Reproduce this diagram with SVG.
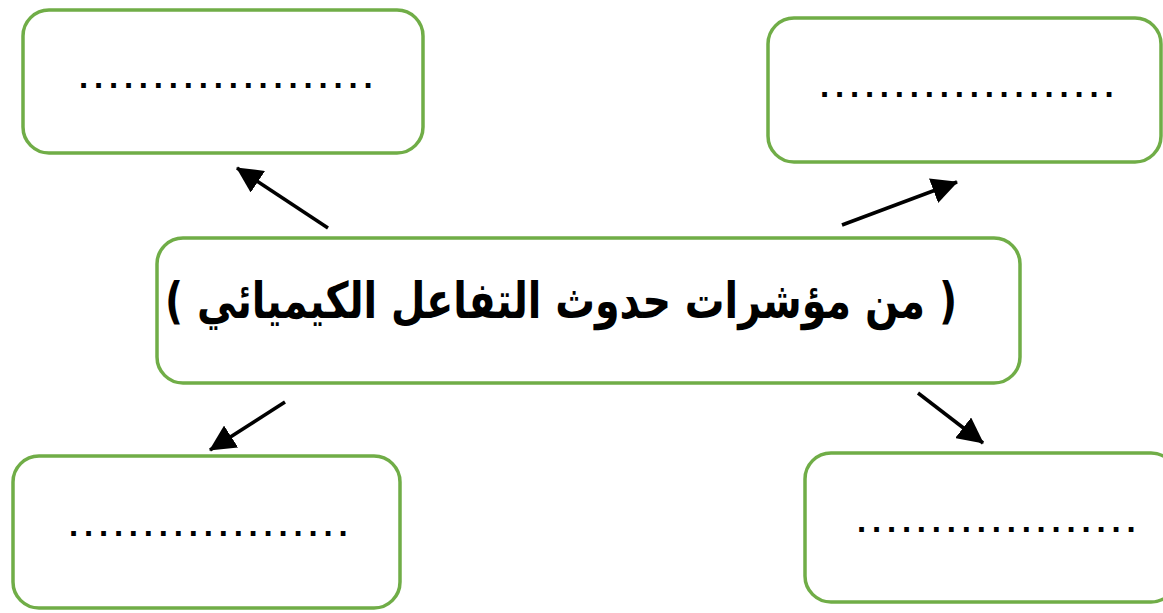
<svg xmlns="http://www.w3.org/2000/svg" width="1163" height="613" viewBox="0 0 1163 613">
<defs>
<style>
.box{fill:#fff;stroke:#70ad47;stroke-width:3.5}
.dots{font-family:"Liberation Sans",Arial,sans-serif;font-size:33px;font-weight:bold;fill:#000;letter-spacing:5.8px}
.title{font-family:"DejaVu Sans",sans-serif;font-size:50px;font-weight:bold;fill:#000}
.conn{stroke:#000;stroke-width:3.5;fill:none;marker-end:url(#ah)}
</style>
<marker id="ah" markerUnits="userSpaceOnUse" markerWidth="28" markerHeight="26" refX="25" refY="13" orient="auto">
<path d="M0,0 L26,13 L0,26 Z" fill="#000"/>
</marker>
</defs>
<rect width="1163" height="613" fill="#fff"/>
<g id="connectors">
<line class="conn" x1="328" y1="228" x2="237" y2="168"/>
<line class="conn" x1="842" y1="225" x2="957" y2="182"/>
<line class="conn" x1="285" y1="402" x2="210" y2="450"/>
<line class="conn" x1="918" y1="393" x2="983" y2="443"/>
</g>
<g id="node-center">
<rect class="box" x="157" y="238" width="863" height="145" rx="26"/>
<text class="title" x="561" y="318" text-anchor="middle" direction="rtl" textLength="792" lengthAdjust="spacingAndGlyphs">( من مؤشرات حدوث التفاعل الكيميائي )</text>
</g>
<g id="node-top-left">
<rect class="box" x="23" y="10" width="400" height="143" rx="26"/>
<text class="dots" x="79" y="88">....................</text>
</g>
<g id="node-top-right">
<rect class="box" x="768" y="18" width="393" height="144" rx="26"/>
<text class="dots" x="820" y="97">....................</text>
</g>
<g id="node-bottom-left">
<rect class="box" x="13" y="456" width="387" height="152" rx="26"/>
<text class="dots" x="69" y="536">...................</text>
</g>
<g id="node-bottom-right">
<rect class="box" x="805" y="453" width="372" height="149" rx="26"/>
<text class="dots" x="857" y="532">...................</text>
</g>
</svg>
